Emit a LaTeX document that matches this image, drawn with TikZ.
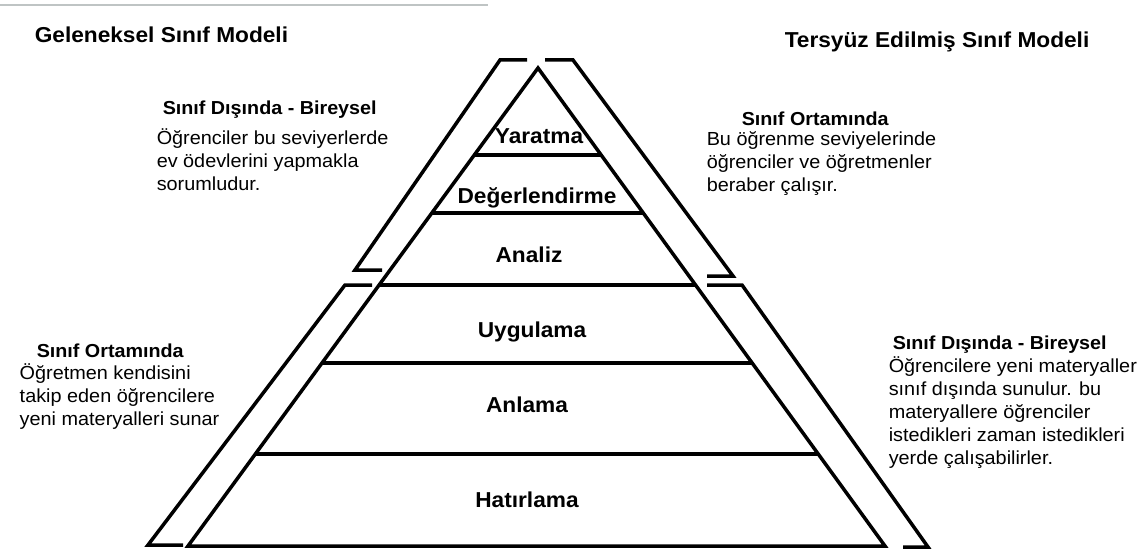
\documentclass[tikz,border=0pt]{standalone}
\usepackage{fontspec}
\setmainfont{Liberation Sans}[FakeStretch=1.05]
\usetikzlibrary{calc}
\definecolor{rulegray}{RGB}{191,196,196}
\begin{document}
\begin{tikzpicture}[x=1pt,y=-1pt, line width=3.5pt, line join=miter,
  title/.style={font=\fontsize{21.6}{24}\selectfont\bfseries, anchor=base west, inner sep=0pt},
  head/.style={font=\fontsize{18.8}{22}\selectfont\bfseries, anchor=base west, inner sep=0pt},
  body/.style={font=\fontsize{18.9}{23}\selectfont, anchor=base west, inner sep=0pt, align=left},
  lvl/.style={font=\fontsize{21.6}{24}\selectfont\bfseries, anchor=base, inner sep=0pt},
  bracket/.style={draw, line width=3.5pt}]
\useasboundingbox (0,0) rectangle (1143,551);
\draw[line width=2.5pt, rulegray] (0,5) -- (488,5);
% pyramid
\coordinate (A) at (538,68);
\coordinate (BL) at (188,546);
\coordinate (BR) at (885,546);
\draw (BL) -- (A) -- (BR) -- cycle;
\foreach \yy in {155,213,285,363,454}{
  \pgfmathsetmacro\tt{(\yy-68)/478}
  \draw ($(A)!\tt!(BL)$) -- ($(A)!\tt!(BR)$);
}
% brackets
\draw[bracket] (527,60) -- (500,60) -- (355,270) -- (382,270);
\draw[bracket] (545,60) -- (573,60) -- (733,276) -- (707,276);
\draw[bracket] (372,285) -- (345,285) -- (148,545) -- (183,545);
\draw[bracket] (707,285) -- (742,285) -- (928,547) -- (903,547);
% titles
\node[title] (t1) at (33,43) {Geleneksel Sınıf Modeli};
\node[title] (t2) at (783,48) {Tersyüz Edilmiş Sınıf Modeli};
% side texts (body nodes anchored at the baseline of their last line)
\node[head] (h1) at (161,114) {Sınıf Dışında - Bireysel};
\node[body] (b1) at (155,190) {Öğrenciler bu seviyerlerde\\ev ödevlerini yapmakla\\sorumludur.};
\node[head] (h2) at (740,125) {Sınıf Ortamında};
\node[body] (b2) at (705,191) {Bu öğrenme seviyelerinde\\öğrenciler ve öğretmenler\\beraber çalışır.};
\node[head] (h3) at (35,357) {Sınıf Ortamında};
\node[body] (b3) at (18,425) {Öğretmen kendisini\\takip eden öğrencilere\\yeni materyalleri sunar};
\node[head] (h4) at (891,349) {Sınıf Dışında - Bireysel};
\node[body] (b4) at (887,464) {Öğrencilere yeni materyaller\\sınıf dışında sunulur. bu\\materyallere öğrenciler\\istedikleri zaman istedikleri\\yerde çalışabilirler.};
% levels
\node[lvl] (l6) at (539,143) {Yaratma};
\node[lvl] (l5) at (537,203) {Değerlendirme};
\node[lvl] (l4) at (529,262) {Analiz};
\node[lvl] (l3) at (532,337) {Uygulama};
\node[lvl] (l2) at (527,412) {Anlama};
\node[lvl] (l1) at (527,507) {Hatırlama};
\end{tikzpicture}
\end{document}
